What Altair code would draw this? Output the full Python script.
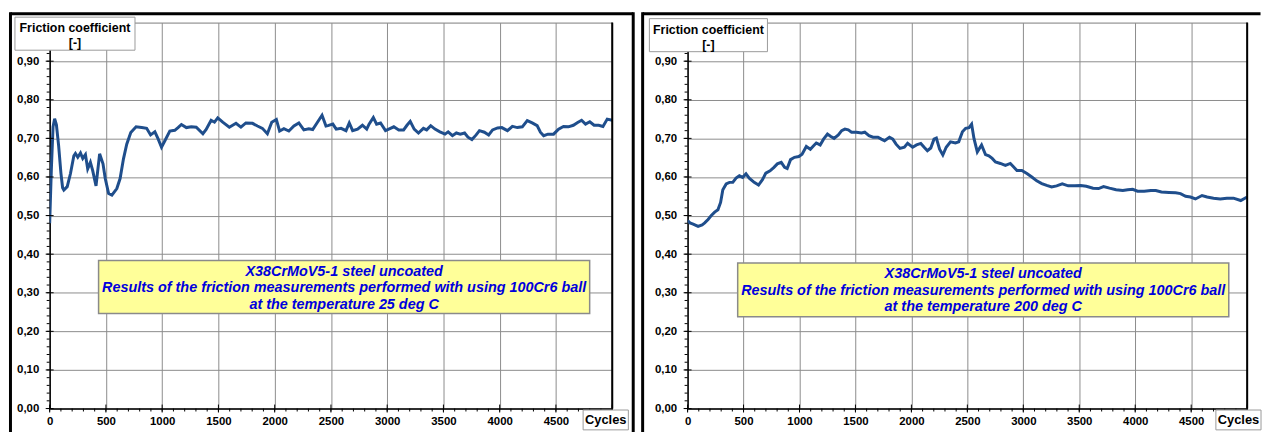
import altair as alt
import pandas as pd

# ---------------- data ----------------
cycles_25 = [0, 15, 30, 44, 60, 80, 100, 115, 126, 156, 185, 215, 229, 250, 274, 294, 318, 338, 362, 382,
             412, 444, 474, 494, 524, 553, 597, 626, 656, 685, 721, 768, 818, 862, 897, 935, 965, 994, 1024,
             1068, 1112, 1141, 1171, 1215, 1259, 1303, 1362, 1391, 1435, 1465, 1494, 1538, 1597, 1656, 1700,
             1744, 1803, 1847, 1891, 1935, 1974, 2015, 2044, 2082, 2126, 2171, 2215, 2259, 2303, 2338, 2376,
             2421, 2456, 2473, 2517, 2547, 2590, 2634, 2663, 2693, 2737, 2780, 2818, 2839, 2877, 2906, 2941,
             2985, 3029, 3059, 3103, 3146, 3176, 3205, 3240, 3278, 3322, 3351, 3387, 3425, 3469, 3514, 3542,
             3580, 3615, 3650, 3688, 3718, 3753, 3791, 3820, 3864, 3902, 3937, 3981, 4019, 4069, 4113, 4157,
             4201, 4245, 4289, 4333, 4362, 4391, 4429, 4479, 4523, 4567, 4611, 4655, 4693, 4728, 4763, 4801,
             4839, 4880, 4918, 4956, 5000]
friction_25 = [0.480, 0.620, 0.730, 0.751, 0.735, 0.680, 0.610, 0.572, 0.566, 0.575, 0.609, 0.655, 0.661, 0.651,
               0.662, 0.648, 0.658, 0.621, 0.638, 0.617, 0.577, 0.660, 0.634, 0.596, 0.557, 0.553, 0.570, 0.596,
               0.647, 0.685, 0.715, 0.730, 0.728, 0.726, 0.709, 0.717, 0.698, 0.677, 0.694, 0.719, 0.721, 0.728,
               0.736, 0.728, 0.730, 0.729, 0.712, 0.723, 0.747, 0.742, 0.753, 0.742, 0.729, 0.739, 0.729, 0.740,
               0.739, 0.732, 0.726, 0.712, 0.742, 0.749, 0.719, 0.725, 0.719, 0.732, 0.740, 0.722, 0.725, 0.723,
               0.740, 0.760, 0.732, 0.733, 0.737, 0.724, 0.726, 0.720, 0.740, 0.720, 0.724, 0.734, 0.724, 0.737,
               0.754, 0.737, 0.740, 0.720, 0.726, 0.730, 0.722, 0.722, 0.734, 0.744, 0.724, 0.714, 0.726, 0.722,
               0.733, 0.724, 0.717, 0.711, 0.717, 0.707, 0.714, 0.711, 0.714, 0.703, 0.697, 0.709, 0.720, 0.716,
               0.709, 0.722, 0.727, 0.728, 0.720, 0.731, 0.728, 0.730, 0.746, 0.740, 0.733, 0.716, 0.707, 0.711,
               0.711, 0.724, 0.731, 0.730, 0.734, 0.741, 0.747, 0.737, 0.743, 0.734, 0.734, 0.731, 0.750, 0.747]

cycles_200 = [0, 21, 50, 94, 130, 153, 183, 212, 242, 271, 295, 315, 345, 374, 404, 433, 463, 492, 522, 551,
              595, 634, 669, 699, 737, 772, 802, 837, 867, 890, 920, 955, 994, 1023, 1061, 1097, 1126, 1150,
              1185, 1215, 1250, 1280, 1309, 1347, 1377, 1406, 1436, 1465, 1509, 1554, 1583, 1621, 1657, 1701,
              1731, 1760, 1804, 1834, 1863, 1898, 1937, 1966, 2011, 2046, 2084, 2114, 2143, 2173, 2202, 2223,
              2252, 2281, 2311, 2349, 2393, 2423, 2456, 2485, 2515, 2538, 2559, 2589, 2627, 2662, 2692, 2722,
              2751, 2795, 2840, 2884, 2914, 2943, 2987, 3032, 3076, 3120, 3165, 3209, 3253, 3298, 3348, 3401,
              3460, 3513, 3563, 3623, 3673, 3717, 3770, 3829, 3889, 3933, 3977, 4021, 4080, 4140, 4184, 4234,
              4302, 4361, 4405, 4450, 4494, 4538, 4597, 4642, 4700, 4760, 4819, 4878, 4943, 5000]
friction_200 = [0.487, 0.481, 0.478, 0.472, 0.476, 0.481, 0.490, 0.500, 0.509, 0.515, 0.534, 0.567, 0.582,
                0.586, 0.586, 0.597, 0.603, 0.599, 0.608, 0.597, 0.586, 0.579, 0.593, 0.610, 0.616, 0.625,
                0.634, 0.638, 0.625, 0.622, 0.645, 0.651, 0.653, 0.659, 0.679, 0.672, 0.681, 0.688, 0.683,
                0.698, 0.711, 0.705, 0.700, 0.709, 0.720, 0.724, 0.722, 0.716, 0.716, 0.714, 0.716, 0.707,
                0.703, 0.703, 0.698, 0.694, 0.703, 0.698, 0.685, 0.674, 0.677, 0.687, 0.677, 0.683, 0.687,
                0.677, 0.668, 0.675, 0.698, 0.701, 0.672, 0.657, 0.677, 0.691, 0.688, 0.691, 0.717, 0.726,
                0.728, 0.737, 0.700, 0.665, 0.683, 0.658, 0.655, 0.648, 0.639, 0.635, 0.630, 0.635, 0.626,
                0.617, 0.617, 0.609, 0.600, 0.590, 0.583, 0.578, 0.574, 0.577, 0.582, 0.577, 0.577, 0.578,
                0.576, 0.571, 0.570, 0.575, 0.571, 0.567, 0.565, 0.567, 0.568, 0.563, 0.563, 0.565, 0.565,
                0.561, 0.560, 0.559, 0.557, 0.550, 0.548, 0.543, 0.552, 0.548, 0.545, 0.543, 0.545, 0.545,
                0.539, 0.548]

x_major = [0, 500, 1000, 1500, 2000, 2500, 3000, 3500, 4000, 4500, 5000]
x_minor = [100 * i for i in range(51)]
y_major = [0.0, 0.1, 0.2, 0.3, 0.4, 0.5, 0.6, 0.7, 0.8, 0.9, 1.0]
y_minor = [0.02 * i for i in range(51)]

y_title = ["Friction coefficient", "[-]"]
x_title = "Cycles"
note_1 = "X38CrMoV5-1 steel uncoated"
note_2 = "Results of the friction measurements performed with using 100Cr6 ball"
note_3_left = "at the temperature 25 deg C"
note_3_right = "at the temperature 200 deg C"

FONT = "Liberation Sans"
H = 389
LINE_COLOR = "#1F4E8C"
GRID = "#8c8c8c"
ONE = pd.DataFrame({"k": [0]})

XS = alt.Scale(domain=[0, 5000], nice=False, zero=False)
YS = alt.Scale(domain=[0, 1], nice=False)
XA = alt.Axis(values=x_major, format="d", title=None, grid=True, gridColor=GRID, gridWidth=1,
              ticks=False, tickSize=0, labelPadding=7, domainColor="black", domainWidth=1.5,
              labelFont=FONT, labelFontSize=11.5, labelFontWeight="bold", labelColor="black",
              labelExpr="datum.value < 4999 ? datum.label : ''", labelFlush=False,
              labelOverlap=False, zindex=0)
YA = alt.Axis(values=y_major, title=None, grid=True, gridColor=GRID, gridWidth=1,
              ticks=False, tickSize=0, labelPadding=11, domainColor="black", domainWidth=1.5,
              labelFont=FONT, labelFontSize=11.5, labelFontWeight="bold", labelColor="black",
              labelExpr="datum.value > 0.95 ? '' : replace(format(datum.value, '.2f'), '.', ',')",
              labelOverlap=False, zindex=0)


def box(x0, x1, y0, y1, fill, stroke, sw):
    return alt.Chart(ONE).mark_rect(fill=fill, stroke=stroke, strokeWidth=sw).encode(
        x=alt.value(x0), x2=alt.value(x1), y=alt.value(y0), y2=alt.value(y1))


def hrule(x0, x1, y, sw):
    return alt.Chart(ONE).mark_rule(color="black", strokeWidth=sw).encode(
        x=alt.value(x0), x2=alt.value(x1), y=alt.value(y))


def vrule(x, y0, y1, sw):
    return alt.Chart(ONE).mark_rule(color="black", strokeWidth=sw).encode(
        x=alt.value(x), y=alt.value(y0), y2=alt.value(y1))


def label(txt, x, y, size, color="black", italic=False):
    return alt.Chart(ONE).mark_text(font=FONT, fontSize=size, fontWeight="bold",
                                    fontStyle="italic" if italic else "normal", color=color,
                                    align="center", baseline="middle").encode(
        x=alt.value(x), y=alt.value(y), text=alt.value(txt))


def panel(cyc, mu, w, note3, g):
    df = pd.DataFrame({"c": cyc, "mu": mu})
    line = alt.Chart(df).mark_line(color=LINE_COLOR, strokeWidth=3, clip=True).encode(
        x=alt.X("c:Q", scale=XS, axis=XA),
        y=alt.Y("mu:Q", scale=YS, axis=YA),
    )
    right_edge = alt.Chart(pd.DataFrame({"c": [5000]})).mark_rule(color="black", strokeWidth=2).encode(
        x=alt.X("c:Q", scale=XS, axis=XA), y=alt.value(0), y2=alt.value(H))
    xmin = alt.Chart(pd.DataFrame({"c": x_minor})).mark_rule(color="black", strokeWidth=1).encode(
        x=alt.X("c:Q", scale=XS, axis=XA), y=alt.value(H), y2=alt.value(H + 3))
    xmaj = alt.Chart(pd.DataFrame({"c": x_major})).mark_rule(color="black", strokeWidth=1).encode(
        x=alt.X("c:Q", scale=XS, axis=XA), y=alt.value(H - 4), y2=alt.value(H + 4))
    ymin = alt.Chart(pd.DataFrame({"mu": y_minor})).mark_rule(color="black", strokeWidth=1).encode(
        y=alt.Y("mu:Q", scale=YS, axis=YA), x=alt.value(-3), x2=alt.value(0))
    ymaj = alt.Chart(pd.DataFrame({"mu": y_major})).mark_rule(color="black", strokeWidth=1).encode(
        y=alt.Y("mu:Q", scale=YS, axis=YA), x=alt.value(-4), x2=alt.value(4))

    bx0, bx1, draw_right = g["border"]
    frame = [vrule(bx0, -10.5, 418, 3), hrule(bx0, bx1, -9, 3)]
    if draw_right:
        frame.append(vrule(bx1, -10.5, 418, 3))

    tx0, tx1, ty0, ty1 = g["ybox"]
    ybox = box(tx0, tx1, ty0, ty1, "white", "#9a9a9a", 1)
    ytxt1 = label(y_title[0], (tx0 + tx1) / 2, ty0 + 11, 12.5)
    ytxt2 = label(y_title[1], (tx0 + tx1) / 2, ty0 + 26.5, 12.5)

    nx0, nx1, ny0, ny1 = g["note"]
    nbox = box(nx0, nx1, ny0, ny1, "#FFFF99", "#8a8a8a", 1.5)
    ncx = (nx0 + nx1) / 2
    n1 = label(note_1, ncx, ny0 + 11.5, 14.5, "#0000DD", True)
    n2 = label(note_2, ncx, ny0 + 28, 14.5, "#0000DD", True)
    n3 = label(note3, ncx, ny0 + 44.5, 14.5, "#0000DD", True)

    cx0, cx1, cy0, cy1 = g["cycles"]
    cbox = box(cx0, cx1, cy0, cy1, "white", "#9a9a9a", 1)
    ctxt = label(x_title, (cx0 + cx1) / 2, (cy0 + cy1) / 2, 13)

    return alt.layer(line, right_edge, xmin, xmaj, ymin, ymaj, nbox, n1, n2, n3,
                     ybox, ytxt1, ytxt2, cbox, ctxt, *frame).properties(width=w, height=H)


left = panel(cycles_25, friction_25, 567, note_3_left, {
    "border": (-39.5, 588.2, True),
    "ybox": (-35, 86, -5.5, 27.8),
    "note": (49.3, 544.3, 239.8, 293.2),
    "cycles": (537.7, 583.3, 390.5, 410.5),
})
right = panel(cycles_200, friction_200, 564, note_3_right, {
    "border": (-45.3, 577.5, False),
    "ybox": (-38.5, 80.5, -4.0, 29.3),
    "note": (50.5, 545.5, 242.2, 296.5),
    "cycles": (532.5, 578.0, 390.5, 410.5),
})

chart = alt.hconcat(left, right, spacing=4).properties(
    padding={"left": 0, "top": 0, "right": 0, "bottom": 0}
).configure_view(stroke=None).configure(background="white")

chart.save("out.html", embed_options={"renderer": "svg", "actions": False})
